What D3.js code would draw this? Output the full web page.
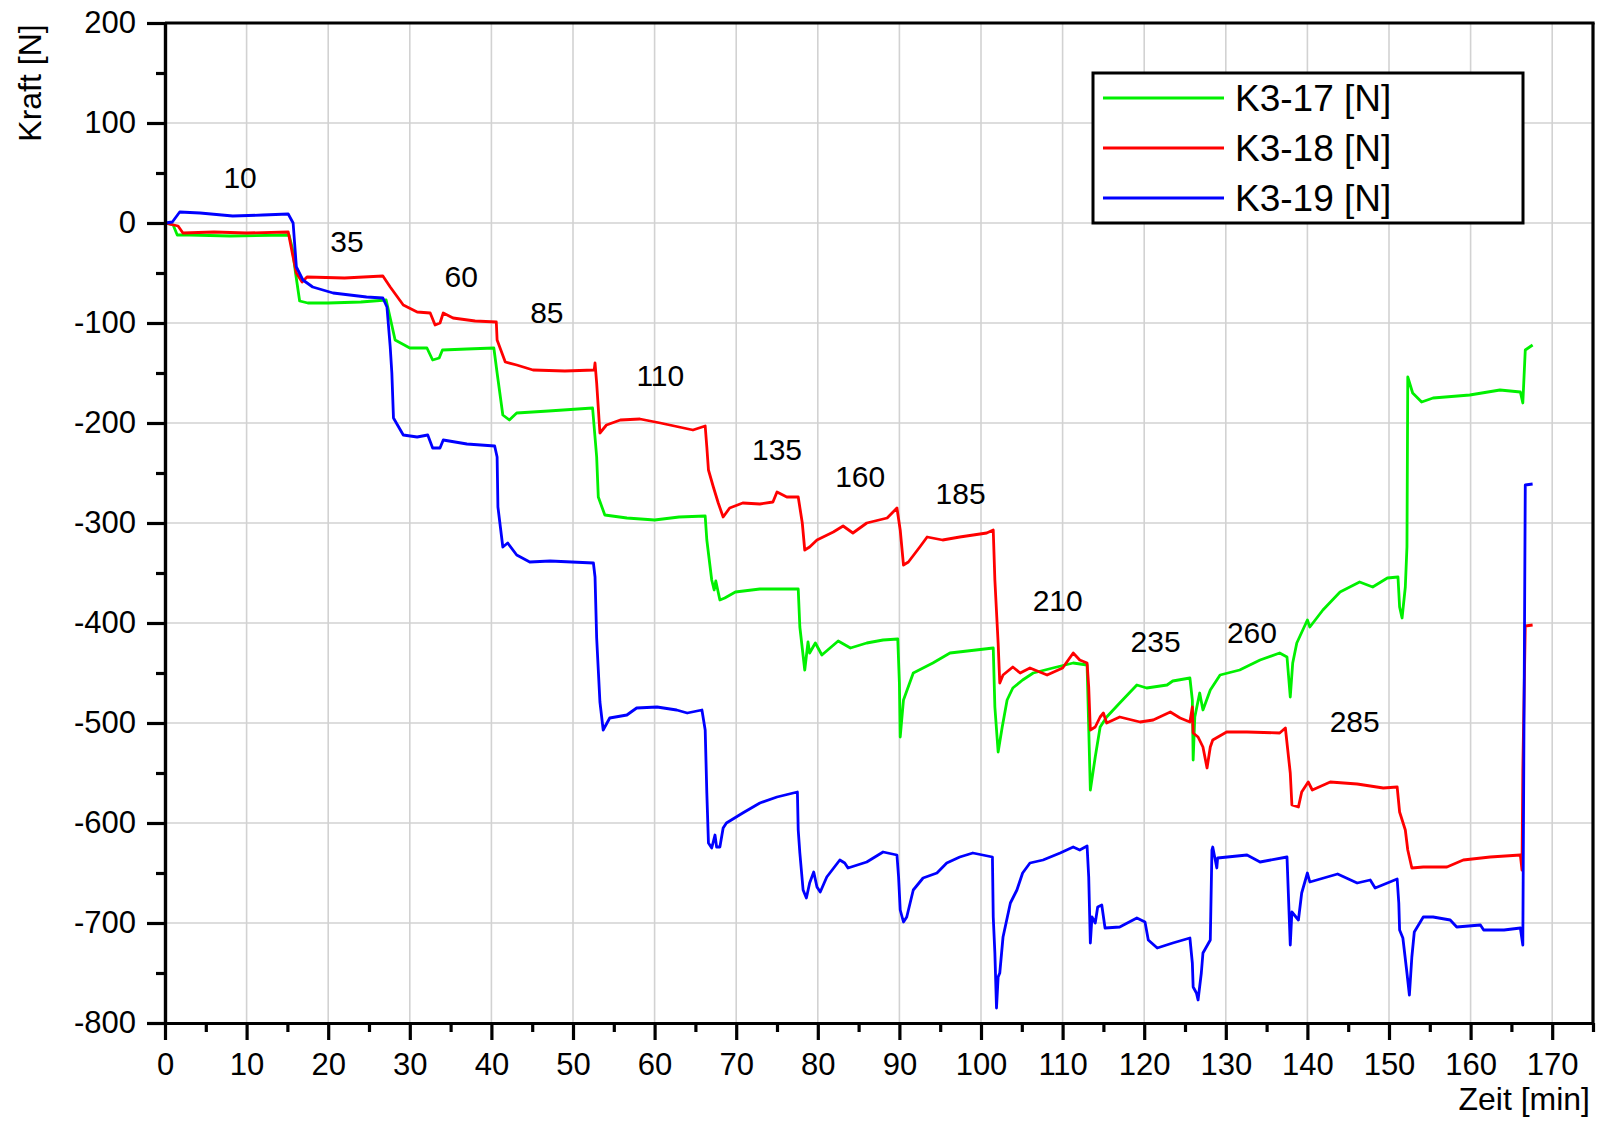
<!DOCTYPE html>
<html>
<head>
<meta charset="utf-8">
<script src="https://cdn.jsdelivr.net/npm/d3@7"></script>
<style>
  body { margin: 0; background: #fff; }
  text { font-family: "Liberation Sans", Arial, sans-serif; fill: #000; }
</style>
</head>
<body>
<div id="chart"></div>
<script>
// series names and colours
var seriesNames = ["K3-17 [N]", "K3-18 [N]", "K3-19 [N]"];
var seriesColors = ["#00f000", "#ff0000", "#0000ff"];

// [Zeit (min), Kraft (N)]
var k317 = [[0,0],[1,-2],[1.5,-12],[3,-12],[8,-13],[15.2,-12],[15.6,-25],[16,-50],[16.5,-78],[17.5,-80],[20,-80],[24,-79],[27.1,-77],
  [27.6,-95],[28.2,-117],[30,-125],[32.1,-125],[32.8,-137],[33.6,-135],[34,-127],[37,-126],[40.3,-125],
  [40.7,-150],[41.4,-192],[42.2,-197],[43.1,-190],[47,-188],[52.4,-185],
  [52.9,-234],[53.1,-274],[53.9,-292],[56.6,-295],[60,-297],[63,-294],[66.2,-293],
  [66.4,-317],[67,-357],[67.3,-367],[67.5,-358],[68,-377],[68.6,-375],[69.9,-369],[72.9,-366],[77.6,-366],
  [77.8,-404],[78.4,-447],[78.8,-419],[79.0,-430],[79.7,-420],[80.5,-432],[82.5,-418],[84,-425],[86,-420],[88,-417],[89.8,-416],
  [90.0,-460],[90.1,-514],[90.5,-477],[91.7,-450],[94.1,-440],[96.2,-430],[101.5,-425],
  [101.7,-484],[102.1,-529],[102.6,-504],[103.2,-477],[103.9,-465],[105.1,-457],[106.4,-450],[108.8,-445],[111.3,-440],[113.0,-442],
  [113.4,-567],[114,-534],[114.6,-504],[115.4,-494],[117,-480],[119.1,-462],[120.3,-465],[122.8,-462],[123.5,-458],[125.6,-455],
  [125.9,-477],[126,-537],[126.2,-494],[126.8,-470],[127.2,-487],[128.1,-467],[129.3,-452],[131.7,-447],[134.2,-437],[136.6,-430],[137.5,-434],
  [137.9,-474],[138.2,-440],[138.7,-420],[140,-397],[140.3,-404],[141.9,-387],[144,-369],[146.4,-359],[148,-364],[149.8,-355],[151.1,-354],
  [151.3,-384],[151.6,-395],[152,-364],[152.2,-324],[152.3,-154],[152.9,-170],[154,-179],[155.4,-175],[159.9,-172],[163.6,-167],[166.1,-169],
  [166.4,-180],[166.7,-127],[167.6,-122]];

var k318 = [[0,0],[1.6,-3],[2.2,-10],[6,-9],[10,-10],[15.1,-9],
  [15.6,-30],[16.1,-50],[16.8,-59],[17.4,-54],[22,-55],[26.7,-53],
  [27.6,-64],[29.2,-82],[30.9,-89],[32.5,-90],[33.1,-102],[33.7,-100],[34.1,-90],[35.3,-95],[38,-98],[40.6,-99],
  [40.7,-117],[41.7,-139],[43.1,-142],[45.1,-147],[49,-148],[52.6,-147],[52.7,-140],
  [52.9,-160],[53.3,-210],[54.1,-202],[55.8,-197],[58.2,-196],[60.7,-200],[64.7,-207],[66.2,-203],
  [66.4,-224],[66.6,-247],[67.2,-264],[67.8,-280],[68.4,-294],[69.2,-285],[70.8,-280],[72.9,-281],[74.5,-279],[75,-269],[76.2,-274],[77.6,-274],
  [78.1,-300],[78.4,-327],[79,-324],[79.9,-317],[81.9,-309],[83.1,-303],[84.3,-310],[86,-300],[88.5,-295],[89.7,-285],
  [90.1,-307],[90.5,-342],[91.1,-339],[92.5,-324],[93.4,-314],[95.3,-317],[97.4,-314],[100.7,-310],[101.5,-307],
  [101.7,-357],[102.1,-420],[102.3,-460],[102.7,-452],[103.9,-444],[104.8,-450],[106,-445],[108.1,-452],[110,-445],[111.3,-430],[112.1,-437],[113,-440],
  [113.2,-464],[113.4,-507],[114,-504],[114.6,-494],[115,-490],[115.4,-500],[117,-494],[119.5,-499],[121.1,-497],[123.2,-489],[124.4,-495],[125.6,-499],[125.9,-484],
  [126,-510],[126.6,-514],[127.2,-524],[127.7,-545],[128.1,-524],[128.4,-517],[130.1,-509],[132.6,-509],[136.6,-510],[137.3,-505],
  [137.9,-550],[138.1,-582],[138.9,-584],[139.3,-569],[140.1,-559],[140.6,-567],[142.8,-559],[146.1,-561],[149.3,-565],[151,-564],
  [151.3,-589],[152,-607],[152.3,-627],[152.8,-645],[154.2,-644],[157.1,-644],[159.1,-637],[162.4,-634],[166.1,-632],
  [166.3,-647],[166.4,-547],[166.7,-403],[167.6,-402]];

var k319 = [[0,0],[0.9,1],[1.8,11],[4.3,10],[8.3,7],[12,8],[15.1,9],
  [15.7,0],[16.1,-44],[16.9,-57],[18.1,-64],[20.6,-70],[24.7,-74],[26.7,-75],
  [27.2,-84],[27.6,-124],[27.8,-150],[28,-195],[29.2,-212],[30.9,-214],[32.2,-212],[32.8,-225],[33.7,-225],[34.1,-217],[37,-221],[40.4,-223],
  [40.7,-234],[40.8,-284],[41.1,-304],[41.4,-324],[42,-320],[43.1,-332],[44.7,-339],[47.2,-338],[52.5,-340],
  [52.7,-354],[52.9,-415],[53.1,-447],[53.3,-479],[53.7,-507],[54.5,-495],[56.6,-492],[57.8,-485],[60.3,-484],[62.7,-487],[64,-490],[65.8,-487],
  [66.2,-507],[66.4,-570],[66.6,-620],[67,-625],[67.4,-612],[67.6,-624],[68,-624],[68.4,-605],[68.8,-600],[70.8,-590],[72.9,-580],[75,-574],[77.5,-569],
  [77.6,-607],[77.8,-630],[78.2,-667],[78.6,-675],[79,-660],[79.5,-649],[79.9,-664],[80.3,-669],[81.1,-654],[82.7,-637],[83.3,-640],[83.7,-645],[86,-639],[88,-629],[89.7,-632],
  [89.9,-654],[90.1,-687],[90.5,-699],[90.9,-694],[91.7,-667],[92.9,-655],[94.6,-650],[95.8,-640],[97.4,-634],[99,-630],[101.4,-634],
  [101.5,-694],[101.7,-730],[101.9,-785],[102.1,-754],[102.3,-750],[102.7,-714],[103.6,-680],[104.4,-667],[105.1,-650],[106,-640],[107.6,-637],[109.7,-630],[111.3,-624],[112.1,-627],[113,-623],
  [113.2,-654],[113.4,-720],[113.6,-694],[114,-700],[114.3,-684],[114.8,-682],[115.2,-705],[117,-704],[119.1,-695],[120.1,-699],[120.5,-717],[121.6,-725],[123.5,-720],[125.6,-715],
  [125.9,-740],[126,-764],[126.4,-770],[126.6,-777],[127,-750],[127.2,-730],[128.1,-717],[128.3,-627],[128.4,-624],[128.9,-645],[129,-635],[132.6,-632],[134.2,-639],[137.5,-634],
  [137.9,-722],[138.1,-689],[138.9,-697],[139.3,-670],[140,-650],[140.3,-659],[143.7,-651],[146.1,-660],[147.7,-657],[148.3,-665],[151,-656],
  [151.2,-680],[151.3,-707],[151.7,-715],[152.2,-750],[152.5,-772],[152.8,-734],[153.1,-709],[154.2,-694],[155.4,-694],[157.5,-697],[158.3,-704],[161.2,-702],[161.6,-707],[164.1,-707],[166.1,-705],
  [166.4,-722],[166.7,-262],[167.6,-261]];

// level annotations (text, and where they sit in Zeit / Kraft units)
var levelLabels = ["10","35","60","85","110","135","160","185","210","235","260","285"];
var levelTime   = [9.2, 22.3, 36.3, 46.8, 60.7, 75.0, 85.2, 97.5, 109.4, 121.4, 133.2, 145.8];
var levelForce  = [46, -18, -53, -89, -152, -226, -253, -270, -377, -418, -409, -498];

var xTicks = d3.range(0, 171, 10);
var xMinor = d3.range(5, 176, 10);
var yTicks = d3.range(-800, 201, 100);
var yMinor = d3.range(-750, 200, 100);

var width = 1597, height = 1123;

var svg = d3.select("#chart").append("svg")
  .attr("width", width)
  .attr("height", height);

var x = d3.scaleLinear().domain([0, 175]).range([165, 1593]);
var y = d3.scaleLinear().domain([-800, 200]).range([1023, 23]);

// grid
svg.append("g").selectAll("line").data(xTicks.slice(1)).enter().append("line")
  .attr("x1", function(d){ return x(d); }).attr("x2", function(d){ return x(d); })
  .attr("y1", y(200)).attr("y2", y(-800))
  .attr("stroke", "#d2d2d2").attr("stroke-width", 1.6);
svg.append("g").selectAll("line").data(yTicks.slice(1, -1)).enter().append("line")
  .attr("x1", x(0)).attr("x2", x(175))
  .attr("y1", function(d){ return y(d); }).attr("y2", function(d){ return y(d); })
  .attr("stroke", "#d2d2d2").attr("stroke-width", 1.6);

// series
var line = d3.line()
  .x(function(d){ return x(d[0]); })
  .y(function(d){ return y(d[1]); });

[k317, k318, k319].forEach(function(s, i){
  svg.append("path")
    .datum(s)
    .attr("fill", "none")
    .attr("stroke", seriesColors[i])
    .attr("stroke-width", 2.8)
    .attr("stroke-linejoin", "round")
    .attr("d", line);
});

// level labels
svg.append("g").selectAll("text").data(levelLabels).enter().append("text")
  .attr("x", function(d, i){ return x(levelTime[i]); })
  .attr("y", function(d, i){ return y(levelForce[i]); })
  .attr("text-anchor", "middle")
  .attr("dominant-baseline", "central")
  .style("font-size", "30px")
  .text(function(d){ return d; });

// axes (plain hyphen for negatives, like the original)
var fmt = function(d){ return String(d); };
var fs = "31px";
svg.append("g")
  .attr("transform", "translate(0," + y(-800) + ")")
  .call(d3.axisBottom(x).tickValues(xTicks).tickFormat(fmt).tickSize(17).tickSizeOuter(0).tickPadding(13));
svg.append("g")
  .attr("transform", "translate(0," + y(-800) + ")")
  .call(d3.axisBottom(x).tickValues(xMinor).tickSize(9).tickSizeOuter(0).tickFormat(""));
svg.append("g")
  .attr("transform", "translate(" + x(0) + ",0)")
  .call(d3.axisLeft(y).tickValues(yTicks).tickFormat(fmt).tickSize(18).tickSizeOuter(0).tickPadding(11));
svg.append("g")
  .attr("transform", "translate(" + x(0) + ",0)")
  .call(d3.axisLeft(y).tickValues(yMinor).tickSize(9).tickSizeOuter(0).tickFormat(""));

svg.selectAll(".domain").attr("stroke", "#000").attr("stroke-width", 3.2);
svg.selectAll(".tick line").attr("stroke", "#000").attr("stroke-width", 3.2);
svg.selectAll(".tick text")
  .style("font-family", "'Liberation Sans', Arial, sans-serif")
  .style("font-size", fs).attr("fill", "#000");

// top and right frame
svg.append("line").attr("x1", x(0)).attr("x2", x(175) + 1.6)
  .attr("y1", y(200)).attr("y2", y(200)).attr("stroke", "#000").attr("stroke-width", 3.2);
svg.append("line").attr("x1", x(175)).attr("x2", x(175))
  .attr("y1", y(200)).attr("y2", y(-800)).attr("stroke", "#000").attr("stroke-width", 3.2);

// axis titles
svg.append("text")
  .attr("transform", "translate(41,83) rotate(-90)")
  .attr("text-anchor", "middle")
  .style("font-size", "32px")
  .text("Kraft [N]");
svg.append("text")
  .attr("x", 1590).attr("y", 1110)
  .attr("text-anchor", "end")
  .style("font-size", "32px")
  .text("Zeit [min]");

// legend
var legend = svg.append("g");
legend.append("rect")
  .attr("x", 1093).attr("y", 73).attr("width", 430).attr("height", 150)
  .attr("fill", "#fff").attr("stroke", "#000").attr("stroke-width", 3);
seriesNames.forEach(function(name, i){
  var ly = 98 + i * 50;
  legend.append("line")
    .attr("x1", 1103).attr("x2", 1224).attr("y1", ly).attr("y2", ly)
    .attr("stroke", seriesColors[i]).attr("stroke-width", 2.8);
  legend.append("text")
    .attr("x", 1235).attr("y", ly)
    .attr("dominant-baseline", "central")
    .style("font-size", "37px")
    .text(name);
});
</script>
</body>
</html>
